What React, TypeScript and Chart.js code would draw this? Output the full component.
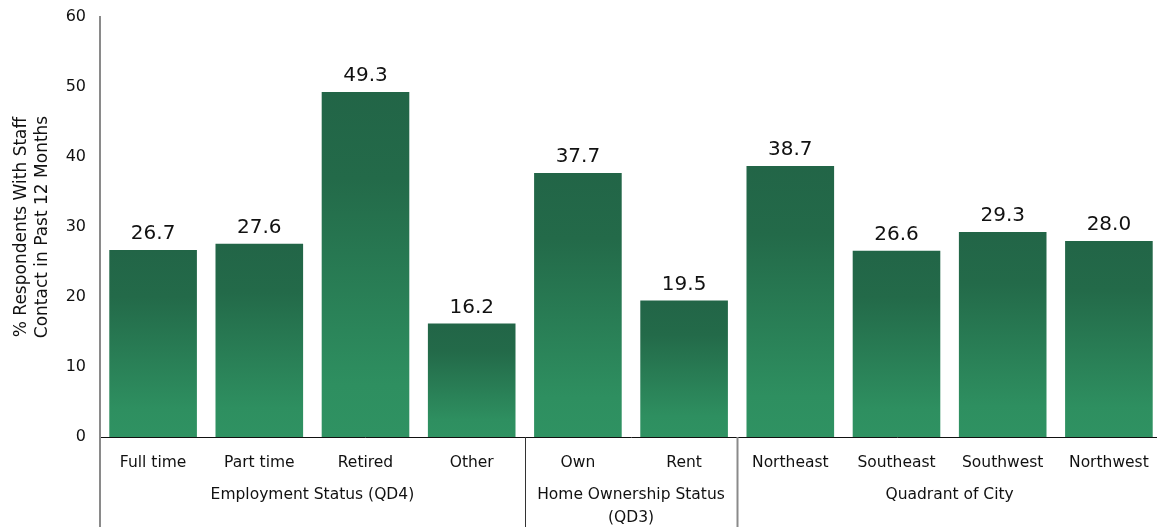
import React, { useEffect, useRef } from "react";
import { Chart, registerables } from "chart.js";

Chart.register(...registerables);

const categories = ["Full time", "Part time", "Retired", "Other", "Own", "Rent", "Northeast", "Southeast", "Southwest", "Northwest"];
const values = [26.7, 27.6, 49.3, 16.2, 37.7, 19.5, 38.7, 26.6, 29.3, 28.0];
const groupLabels = [["Employment Status (QD4)"], ["Home Ownership Status", "(QD3)"], ["Quadrant of City"]];
const groupSizes = [4, 2, 4];
const yTitle = ["% Respondents With Staff", "Contact in Past 12 Months"];

const FONT = "'DejaVu Sans', sans-serif";

const extrasPlugin = {
  id: "extras",
  afterDraw(chart: any) {
    const { ctx, chartArea } = chart;
    const bottomEnd = chart.height - 2;
    ctx.save();
    ctx.strokeStyle = "#8a8a8a";
    ctx.lineWidth = 2;
    ctx.beginPath();
    ctx.moveTo(chartArea.left, chartArea.bottom);
    ctx.lineTo(chartArea.left, bottomEnd);
    ctx.stroke();
    const step = (chartArea.right - chartArea.left) / categories.length;
    let start = 0;
    ctx.font = `15.5px ${FONT}`;
    ctx.fillStyle = "#111";
    ctx.textAlign = "center";
    ctx.textBaseline = "middle";
    groupSizes.forEach((n, gi) => {
      const x0 = chartArea.left + start * step;
      const x1 = chartArea.left + (start + n) * step;
      if (gi > 0) {
        ctx.strokeStyle = gi === 1 ? "#333" : "#8a8a8a";
        ctx.lineWidth = gi === 1 ? 1 : 2;
        ctx.beginPath();
        ctx.moveTo(Math.round(x0) + 0.5, chartArea.bottom);
        ctx.lineTo(Math.round(x0) + 0.5, bottomEnd);
        ctx.stroke();
      }
      const cx = (x0 + x1) / 2;
      groupLabels[gi].forEach((line, li) => {
        ctx.fillText(line, cx, 495 + li * 23);
      });
      start += n;
    });
    const meta = chart.getDatasetMeta(0);
    ctx.font = `20px ${FONT}`;
    ctx.fillStyle = "#111";
    ctx.textBaseline = "bottom";
    meta.data.forEach((bar: any, i: number) => {
      ctx.fillText(values[i].toFixed(1), bar.x, bar.y - 6);
    });
    ctx.restore();
  },
};

export default function App() {
  const ref = useRef<HTMLCanvasElement>(null);
  useEffect(() => {
    const canvas = ref.current!;
    const chart = new Chart(canvas, {
      type: "bar",
      data: {
        labels: categories,
        datasets: [
          {
            data: values,
            backgroundColor: (c: any) => {
              const ch = c.chart;
              const ca = ch.chartArea;
              if (!ca || c.type !== "data") return "#2a7a53";
              const y = ch.scales.y;
              const top = y.getPixelForValue(c.raw);
              const base = y.getPixelForValue(0);
              const g = ch.ctx.createLinearGradient(0, top, 0, base);
              g.addColorStop(0, "#226547");
              g.addColorStop(0.25, "#236a49");
              g.addColorStop(0.85, "#2e8f60");
              g.addColorStop(1, "#2f9262");
              return g;
            },
            borderWidth: 0,
            categoryPercentage: 1,
            barPercentage: 0.825,
          },
        ],
      },
      options: {
        animation: false,
        responsive: false,
        maintainAspectRatio: false,
        layout: { padding: { top: 17, right: 0, left: 0, bottom: 0 } },
        plugins: { legend: { display: false }, tooltip: { enabled: false } },
        scales: {
          x: {
            grid: { display: false, drawTicks: false },
            border: { display: true, color: "#111", width: 1 },
            ticks: {
              color: "#111",
              font: { family: FONT, size: 15.5 },
              padding: 17,
              maxRotation: 0,
              autoSkip: false,
            },
            afterFit: (s: any) => {
              s.height = 92;
              s.paddingLeft = 0;
              s.paddingRight = 0;
            },
          },
          y: {
            min: 0,
            max: 60,
            grid: { display: false, drawTicks: false },
            border: { display: true, color: "#8a8a8a", width: 2 },
            ticks: {
              stepSize: 10,
              color: "#111",
              font: { family: FONT, size: 16 },
              padding: 14,
            },
            title: {
              display: true,
              text: yTitle,
              color: "#111",
              font: { family: FONT, size: 17, lineHeight: 1.25 },
              padding: { top: 11, bottom: 0 },
            },
            afterFit: (s: any) => {
              s.width = 100;
              s.paddingTop = 0;
              s.paddingBottom = 0;
            },
          },
        },
      },
      plugins: [extrasPlugin],
    });
    return () => chart.destroy();
  }, []);
  return (
    <div style={{ position: "fixed", left: 0, top: 0, width: 1157, height: 529, background: "#fff", overflow: "hidden" }}>
      <canvas ref={ref} width={1162} height={529} style={{ display: "block" }} />
    </div>
  );
}
